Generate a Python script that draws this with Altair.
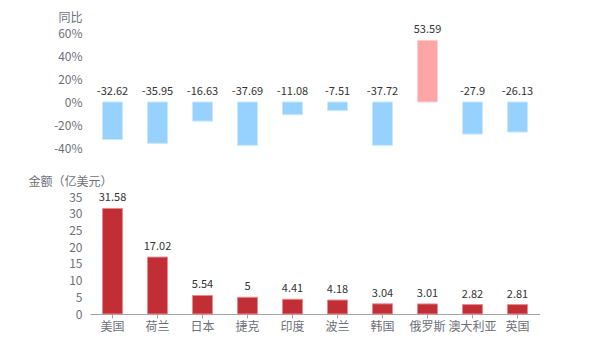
import altair as alt
import pandas as pd

countries = ["美国", "荷兰", "日本", "捷克", "印度", "波兰", "韩国", "俄罗斯", "澳大利亚", "英国"]
amount = [31.58, 17.02, 5.54, 5, 4.41, 4.18, 3.04, 3.01, 2.82, 2.81]
yoy = [-32.62, -35.95, -16.63, -37.69, -11.08, -7.51, -37.72, 53.59, -27.9, -26.13]

df = pd.DataFrame({"country": countries, "amount": amount, "yoy": yoy})
df["pos"] = df["yoy"].clip(lower=0)
df["sign"] = ["pos" if v > 0 else "neg" for v in df["yoy"]]
df["amount_label"] = [("%g" % v) for v in df["amount"]]
df["yoy_label"] = [("%g" % v) for v in df["yoy"]]

FONT = "Noto Sans CJK SC"
xscale = alt.Scale(paddingInner=0, paddingOuter=0)

top_y_axis = alt.Axis(values=[-40, -20, 0, 20, 40, 60], labelExpr="datum.value + '%'",
                      grid=False, domain=False, ticks=False, labelPadding=8, labelOverlap=False,
                      labelColor="#6e7079", labelFontSize=12, labelFont=FONT,
                      title="同比", titleAngle=0, titleAlign="right", titleBaseline="middle",
                      titleX=-8, titleY=-16, titleColor="#6e7079", titleFontSize=12,
                      titleFontWeight="normal", titleFont=FONT)
top_y_scale = alt.Scale(domain=[-40, 60], nice=False)

top_base = alt.Chart(df).properties(width=450, height=115)
top_bars = top_base.mark_bar(size=20, strokeWidth=1).encode(
    x=alt.X("country:N", sort=countries, scale=xscale, axis=None),
    y=alt.Y("yoy:Q", scale=top_y_scale, axis=top_y_axis),
    color=alt.Color("sign:N", scale=alt.Scale(domain=["neg", "pos"], range=["#97D2FE", "#FFA5A5"]), legend=None),
    stroke=alt.Stroke("sign:N", scale=alt.Scale(domain=["neg", "pos"], range=["#C8E8FF", "#FFD0D0"]), legend=None),
)
top_text = top_base.mark_text(baseline="middle", dy=-10, fontSize=11, color="#333333", font=FONT).encode(
    x=alt.X("country:N", sort=countries, scale=xscale, axis=None),
    y=alt.Y("pos:Q", scale=top_y_scale, axis=top_y_axis),
    text="yoy_label:N",
)
top = alt.layer(top_bars, top_text)

bot_x_axis = alt.Axis(title=None, labelAngle=0, grid=False, domainColor="#A0A4AA", tickColor="#A0A4AA",
                      tickSize=4, labelPadding=3, labelOverlap=False,
                      labelColor="#6e7079", labelFontSize=12, labelFont=FONT)
bot_y_axis = alt.Axis(values=[0, 5, 10, 15, 20, 25, 30, 35], grid=False, domain=False, ticks=False,
                      labelPadding=8, labelOverlap=False,
                      labelColor="#6e7079", labelFontSize=12, labelFont=FONT,
                      title="金额（亿美元）", titleAngle=0, titleAlign="left", titleBaseline="middle",
                      titleX=-62, titleY=-16, titleColor="#6e7079", titleFontSize=12,
                      titleFontWeight="normal", titleFont=FONT)
bot_y_scale = alt.Scale(domain=[0, 35], nice=False)

bot_base = alt.Chart(df).properties(width=450, height=117)
bot_bars = bot_base.mark_bar(size=20, color="#C22E35", stroke="#E88A8E", strokeWidth=1).encode(
    x=alt.X("country:N", sort=countries, scale=xscale, axis=bot_x_axis),
    y=alt.Y("amount:Q", scale=bot_y_scale, axis=bot_y_axis),
)
bot_text = bot_base.mark_text(baseline="middle", dy=-10, fontSize=11, color="#333333", font=FONT).encode(
    x=alt.X("country:N", sort=countries, scale=xscale, axis=bot_x_axis),
    y=alt.Y("amount:Q", scale=bot_y_scale, axis=bot_y_axis),
    text="amount_label:N",
)
bottom = alt.layer(bot_bars, bot_text)

chart = alt.vconcat(top, bottom, spacing=49, bounds="flush").properties(
    padding={"left": 28, "top": 11, "right": 0, "bottom": 0},
    background="white",
).configure_view(stroke=None).configure_axis(labelOverlap=False)

chart.save("out.html", embed_options={"renderer": "svg", "actions": False})
